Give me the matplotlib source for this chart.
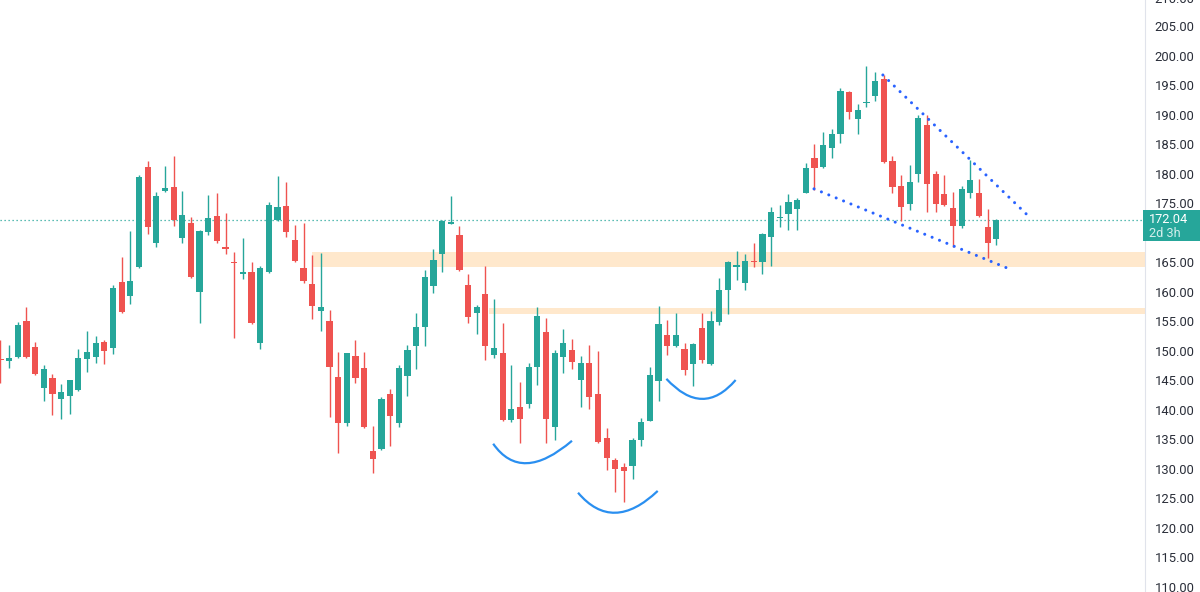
import matplotlib.pyplot as plt
import matplotlib.transforms as mtransforms
from matplotlib.patches import Rectangle, PathPatch
from matplotlib.path import Path
import numpy as np

# OHLC, one value per candle
opens = [148.48, 148.22, 148.90, 155.00, 150.60, 143.65, 145.34, 141.78, 142.29, 143.31,
         148.56, 148.90, 151.45, 150.43, 161.61, 159.24, 164.15, 181.10, 168.22, 177.04,
         177.72, 169.07, 171.61, 159.92, 170.09, 172.80, 167.46, 164.92, 163.05, 163.31,
         151.28, 163.31, 172.12, 174.49, 168.73, 163.98, 161.27, 156.70, 155.00, 145.51,
         137.71, 149.07, 147.04, 132.97, 133.31, 142.63, 137.71, 145.68, 150.77, 153.99,
         160.94, 166.36, 171.44, 169.58, 161.11, 156.36, 159.58, 149.24, 149.58, 138.22,
         140.43, 140.94, 147.21, 153.14, 137.04, 148.90, 150.09, 145.00, 147.88, 142.63,
         135.17, 131.44, 130.26, 130.43, 134.83, 138.05, 144.83, 152.63, 150.77, 150.26,
         147.71, 153.82, 147.71, 154.83, 160.26, 164.15, 161.44, 165.09, 165.00, 169.24,
         172.46, 173.14, 173.99, 176.70, 182.63, 181.10, 184.32, 186.70, 193.82, 189.24,
         191.87, 193.14, 196.02, 182.12, 177.89, 174.83, 179.92, 188.22, 179.92, 176.53,
         174.15, 171.10, 176.70, 176.70, 170.93, 168.90]
highs = [151.78, 150.94, 154.83, 157.38, 151.45, 147.55, 146.02, 144.32, 145.00, 150.26,
         153.31, 152.46, 151.80, 161.11, 165.85, 170.26, 179.75, 182.12, 176.87, 181.27,
         182.97, 177.04, 172.63, 170.43, 176.36, 176.70, 173.31, 166.70, 169.07, 165.00,
         164.30, 175.17, 179.58, 178.56, 171.27, 171.61, 166.19, 166.53, 156.87, 149.75,
         149.60, 151.78, 149.75, 137.21, 142.10, 143.48, 147.55, 150.94, 156.36, 163.65,
         167.21, 172.12, 176.19, 171.10, 162.97, 157.70, 164.32, 158.73, 154.66, 147.55,
         144.66, 147.88, 157.38, 155.51, 150.09, 153.65, 151.95, 149.07, 150.94, 149.92,
         136.87, 131.80, 130.94, 135.17, 138.56, 147.21, 157.54, 155.17, 156.36, 151.28,
         151.30, 156.36, 156.70, 162.29, 165.20, 166.87, 166.36, 168.22, 169.92, 174.32,
         174.66, 176.53, 175.85, 181.78, 185.00, 187.04, 187.55, 194.49, 194.00, 191.78,
         198.22, 197.21, 196.70, 182.97, 179.75, 181.44, 189.92, 189.92, 180.43, 179.75,
         176.87, 177.89, 182.29, 179.07, 173.99, 172.30]
lows = [144.49, 147.04, 148.73, 148.73, 145.85, 141.45, 139.07, 138.39, 139.24, 143.14,
        146.36, 147.88, 147.71, 149.41, 156.36, 157.88, 164.00, 169.75, 167.54, 176.87,
        171.10, 168.22, 162.30, 154.66, 169.58, 168.22, 166.36, 152.12, 162.12, 154.50,
        150.26, 163.14, 172.00, 169.24, 165.00, 161.44, 155.34, 153.31, 138.73, 132.63,
        137.20, 144.49, 136.90, 129.24, 133.10, 133.82, 137.04, 142.29, 146.87, 150.77,
        159.75, 163.31, 171.40, 163.50, 154.66, 152.80, 148.39, 148.73, 138.10, 137.88,
        134.33, 140.26, 144.15, 134.33, 134.83, 146.19, 146.87, 140.43, 140.09, 134.40,
        129.75, 126.02, 124.32, 128.22, 133.82, 138.00, 141.45, 149.24, 150.60, 145.85,
        143.99, 147.88, 147.60, 154.33, 156.19, 161.95, 160.26, 164.15, 162.97, 164.32,
        170.93, 170.43, 170.43, 176.70, 177.21, 181.00, 182.63, 185.17, 189.24, 186.70,
        191.27, 192.29, 181.80, 176.70, 171.95, 173.82, 178.56, 173.48, 173.48, 174.50,
        167.54, 170.76, 175.85, 172.70, 165.68, 167.88]
closes = [148.31, 148.73, 154.33, 148.90, 146.02, 146.87, 142.63, 142.97, 145.00, 148.73,
          149.75, 151.28, 149.92, 160.60, 156.53, 161.78, 179.41, 170.93, 176.19, 177.55,
          172.12, 172.97, 162.46, 170.26, 172.46, 168.56, 167.29, 164.75, 163.22, 154.66,
          163.98, 174.66, 174.32, 170.09, 165.17, 161.78, 157.54, 157.38, 147.21, 137.71,
          149.58, 145.34, 137.04, 131.61, 141.78, 138.90, 147.04, 150.09, 153.99, 162.46,
          165.34, 171.95, 171.78, 163.65, 155.68, 157.38, 150.77, 150.43, 138.22, 140.09,
          138.39, 147.21, 155.85, 138.39, 149.58, 151.28, 148.05, 147.88, 142.12, 134.50,
          131.78, 129.92, 129.58, 134.83, 137.88, 145.85, 154.49, 150.77, 152.63, 146.70,
          151.11, 148.39, 155.00, 160.26, 165.00, 164.49, 165.17, 164.92, 169.75, 173.48,
          172.63, 175.17, 175.51, 180.93, 180.93, 184.83, 186.70, 193.99, 190.43, 190.77,
          192.04, 195.68, 181.95, 177.72, 174.32, 178.56, 189.41, 178.22, 174.83, 174.66,
          171.10, 177.38, 178.90, 172.80, 168.22, 172.04]

# support zones: (start candle, low, high)
zones = [(36.0, 164.2, 166.7), (56.4, 156.2, 157.2)]

# rounded bottoms: (start, lowest point, end) as (candle, price)
arcs = [[(56.9, 134.2), (60.8, 130.9), (66.0, 134.7)],
        [(66.7, 125.9), (71.0, 122.5), (75.9, 126.2)],
        [(76.9, 145.2), (81.0, 141.8), (84.9, 145.0)]]

# falling wedge lines: ((candle, price), (candle, price))
wedge = [((101.9, 196.7), (118.7, 172.8)),
         ((93.95, 177.4), (116.8, 163.65))]

price_ticks = list(range(110, 210, 5))

green = '#26a69a'
red = '#ef5350'

plt.rcParams['font.family'] = ['Roboto', 'DejaVu Sans']

fig = plt.figure(figsize=(12, 5.92), dpi=100)
ax = fig.add_axes([0, 0, 1145 / 1200, 1])

ax.set_xlim(-0.05, 132.17)
ax.set_ylim(109.07, 209.41)

# zones
for start, lo, hi in zones:
    ax.add_patch(Rectangle((start, lo), 200, hi - lo, facecolor='#ffe8cc', edgecolor='none', zorder=1))

# candles
x = np.arange(len(opens))
o = np.array(opens)
c = np.array(closes)
cols = [green if cc >= oo else red for oo, cc in zip(o, c)]
bottoms = np.minimum(o, c)
heights = np.maximum(np.abs(c - o), 0.2)
ax.vlines(x, lows, highs, colors=cols, linewidth=1.0, zorder=2)
ax.bar(x, heights, bottom=bottoms, width=0.72, color=cols, linewidth=0, zorder=3)

# last price line
ax.axhline(closes[-1], color=green, linewidth=0.9, linestyle=(0, (1, 2.2)), zorder=1)

# arcs
for p0, p1, p2 in arcs:
    # quadratic bezier control point so the curve passes through the bottom point
    cx = 2 * p1[0] - (p0[0] + p2[0]) / 2
    cy = 2 * p1[1] - (p0[1] + p2[1]) / 2
    path = Path([p0, (cx, cy), p2], [Path.MOVETO, Path.CURVE3, Path.CURVE3])
    ax.add_patch(PathPatch(path, facecolor='none', edgecolor='#2a8ff0', linewidth=1.6, zorder=4))

# wedge lines
for (x0, y0), (x1, y1) in wedge:
    ax.plot([x0, x1], [y0, y1], color='#2962ff', linewidth=2.2,
            linestyle=(0, (0.01, 2.6)), dash_capstyle='round', zorder=4)

# price axis
for s in ['top', 'left', 'bottom']:
    ax.spines[s].set_visible(False)
ax.spines['right'].set_color('#e0e3eb')
ax.set_xticks([])
ax.yaxis.tick_right()
ax.set_yticks(price_ticks)
ax.set_yticklabels([f'{v:.2f}' for v in price_ticks])
ax.tick_params(axis='y', length=0, pad=7, labelsize=9.4, labelcolor='#2a2e39')

trans = mtransforms.blended_transform_factory(ax.transAxes, ax.transData)
off = mtransforms.offset_copy(trans, fig=fig, x=7, y=0, units='points')
ax.text(1.0, 209.55, '210.00', transform=off, ha='left', va='center',
        fontsize=9.4, color='#2a2e39', clip_on=False)

# last price label
last = closes[-1]
ax.add_patch(Rectangle((0.998, last - 3.4), 0.06, 5.1, transform=trans, facecolor=green,
                       edgecolor='none', clip_on=False, zorder=5))
ax.text(1.0035, last + 0.1, f'{last:.2f}', transform=trans, ha='left', va='center',
        fontsize=9.2, color='white', clip_on=False, zorder=6)
ax.text(1.0035, last - 2.2, '2d 3h', transform=trans, ha='left', va='center',
        fontsize=9.2, color='#d4efec', clip_on=False, zorder=6)

plt.savefig('out.png', dpi=100)
